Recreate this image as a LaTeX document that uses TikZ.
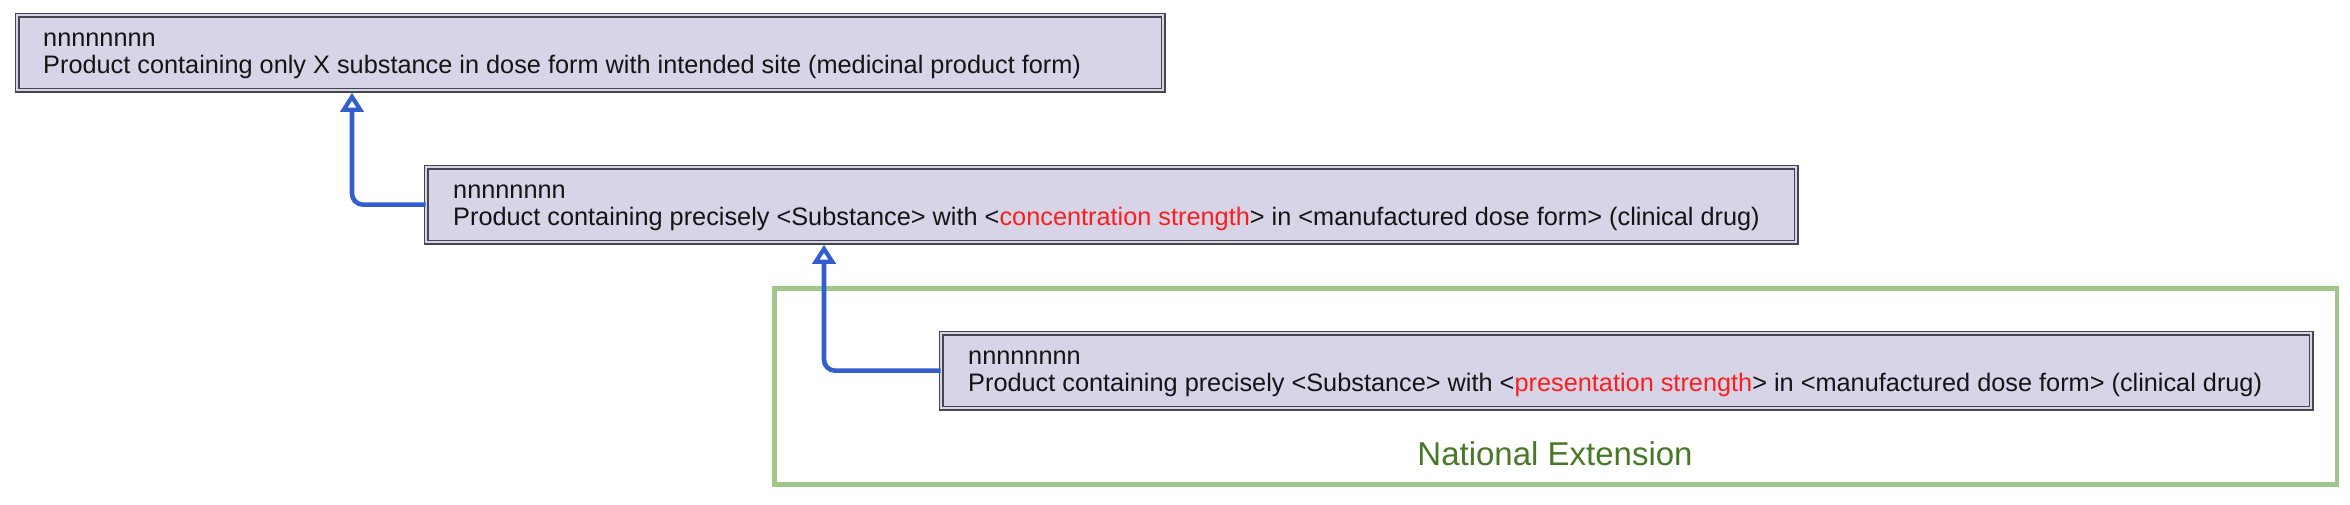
\documentclass[tikz,border=0pt]{standalone}
\usepackage{fontspec}
\setmainfont{Liberation Sans}
\usetikzlibrary{arrows.meta}
\definecolor{boxfill}{RGB}{216,212,232}
\definecolor{boxline}{RGB}{70,70,80}
\definecolor{connblue}{RGB}{50,95,205}
\definecolor{extgreen}{RGB}{160,198,138}
\definecolor{exttext}{RGB}{72,120,40}
\definecolor{hl}{RGB}{250,30,30}
\begin{document}
\begin{tikzpicture}[x=1pt,y=1pt,
  conceptbox/.style={draw=boxline, line width=1.3pt, double=boxfill, double distance=2.4pt,
    fill=boxfill, inner sep=0pt, anchor=north west, minimum height=75pt},
  boxtext/.style={anchor=base west, inner sep=0pt, align=left, text=black!92,
    font=\fontsize{25.3}{27.5}\selectfont},
  conn/.style={draw=connblue, line width=4.6pt, rounded corners=11pt,
    -{Triangle[open, length=19pt, width=23pt, fill=white, line width=4.2pt]}},
  extframe/.style={draw=extgreen, line width=4.6pt},
  exttitle/.style={anchor=base, inner sep=0pt, text=exttext, font=\fontsize{33}{36}\selectfont}]
\useasboundingbox (0,0) rectangle (2350,-504);
\fill[white] (0,0) rectangle (2350,-504);

% National extension frame
\draw[extframe] (774.5,-288.5) rectangle (2337,-484.5);
\node[exttitle] (ext) at (1555,-465) {National Extension};

% boxes
\node[conceptbox, minimum width=1146pt] (b1) at (16.5,-14.5) {};
\node[conceptbox, minimum width=1370pt] (b2) at (425.5,-166.5) {};
\node[conceptbox, minimum width=1370pt] (b3) at (940.5,-332.5) {};

\node[boxtext] (t1) at (43,-73.5) {nnnnnnnn\\Product containing only X substance in dose form with intended site (medicinal product form)};
\node[boxtext] (t2) at (453,-225.5) {nnnnnnnn\\Product containing precisely <Substance> with <\textcolor{hl}{concentration strength}> in <manufactured dose form> (clinical drug)};
\node[boxtext] (t3) at (968,-391.5) {nnnnnnnn\\Product containing precisely <Substance> with <\textcolor{hl}{presentation strength}> in <manufactured dose form> (clinical drug)};

% connectors
\coordinate (j1) at (b1.south -| 352,0);
\coordinate (j2) at (b2.south -| 824,0);
\draw[conn] (b2.west) -| ([yshift=-2pt]j1);
\draw[conn] (b3.west) -| ([yshift=-2pt]j2);
\end{tikzpicture}
\end{document}
